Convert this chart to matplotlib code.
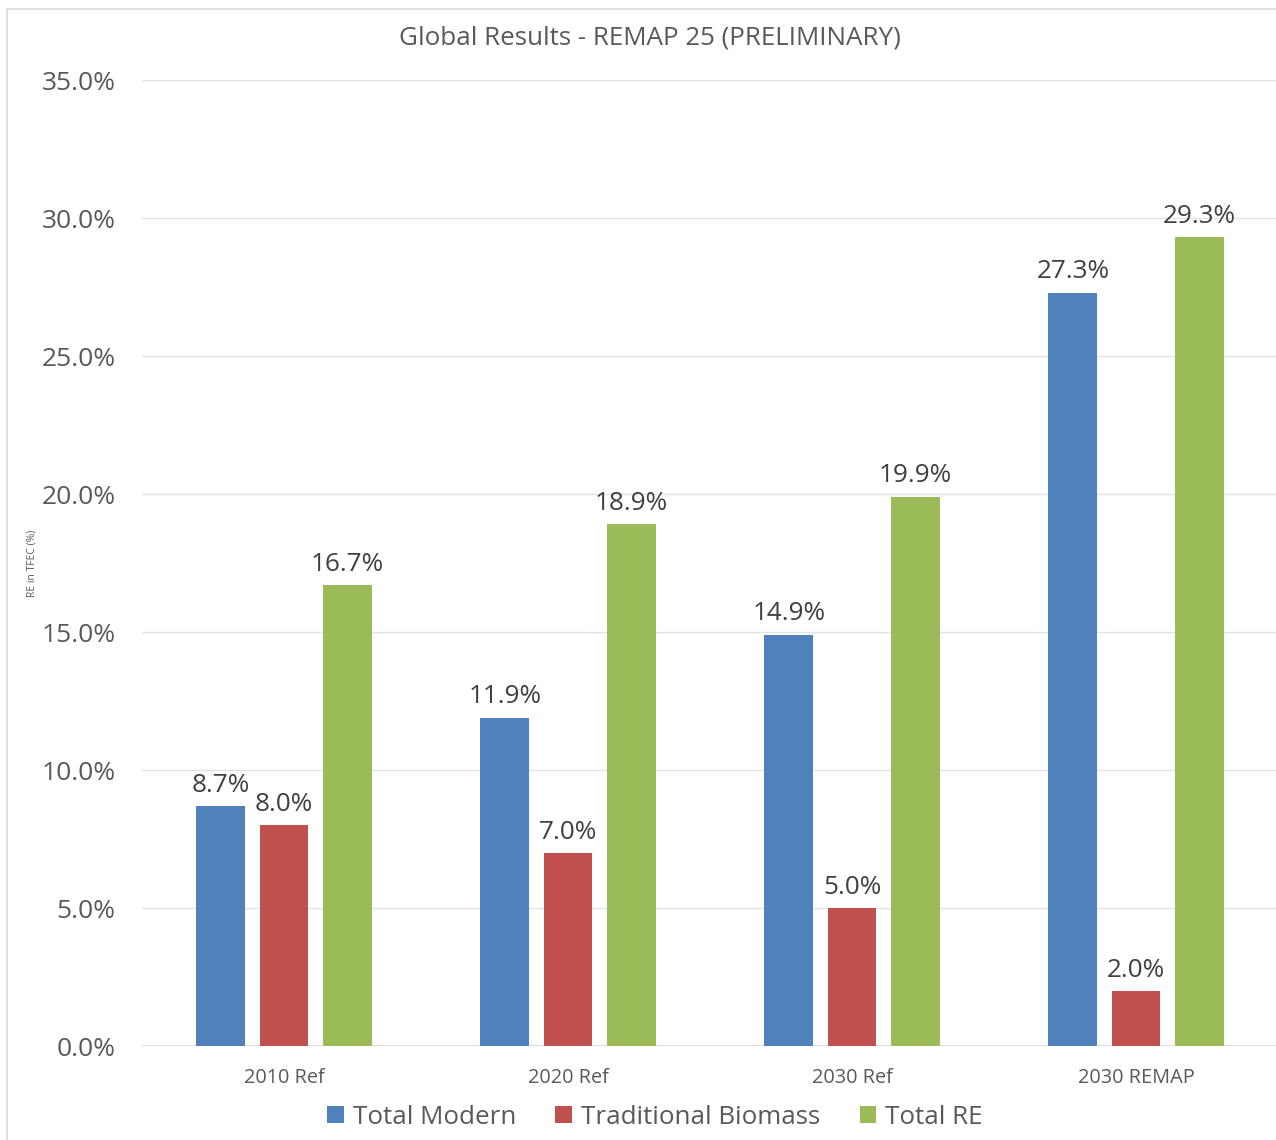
import numpy as np
import matplotlib.pyplot as plt
from matplotlib.patches import Rectangle

plt.rcParams['font.family'] = ['Open Sans', 'DejaVu Sans']

categories = ["2010 Ref", "2020 Ref", "2030 Ref", "2030 REMAP"]
total_modern = [8.7, 11.9, 14.9, 27.3]
traditional_biomass = [8.0, 7.0, 5.0, 2.0]
total_re = [16.7, 18.9, 19.9, 29.3]

series = [
    ("Total Modern", total_modern, "#4f81bd"),
    ("Traditional Biomass", traditional_biomass, "#c0504d"),
    ("Total RE", total_re, "#9bbb59"),
]

fig = plt.figure(figsize=(12.76, 11.4), dpi=100)
ax = fig.add_axes([142 / 1276, 1 - 1046 / 1140, 1136 / 1276, 966 / 1140])

# chart frame
fig.patches.append(Rectangle((7 / 1276, -0.01), 1.0, 1 - 9 / 1140 + 0.01,
                             transform=fig.transFigure, fill=False,
                             edgecolor="#d9d9d9", linewidth=1.2))

x = np.arange(len(categories))
offset = 0.222
width = 0.1725
for i, (name, vals, color) in enumerate(series):
    pos = x + (i - 1) * offset
    bars = ax.bar(pos, vals, width=width, color=color, label=name, zorder=3)
    for b, v in zip(bars, vals):
        ax.text(b.get_x() + b.get_width() / 2, v + 0.3, f"{v:.1f}%",
                ha="center", va="bottom", fontsize=18.8, color="#404040")

ax.set_xlim(-0.5, 3.5)
ax.set_ylim(0, 35)
ax.set_yticks(np.arange(0, 36, 5))
ax.set_yticklabels([f"{v:.1f}%" for v in np.arange(0, 36, 5)])
ax.set_xticks(x)
ax.set_xticklabels(categories)
ax.tick_params(axis="y", length=0, pad=19, labelsize=19, labelcolor="#595959")
ax.tick_params(axis="x", length=0, pad=16, labelsize=14.3, labelcolor="#595959")
ax.grid(axis="y", color="#e3e3e3", linewidth=1, zorder=0)
ax.axhline(0, color="#d9d9d9", linewidth=1.2, zorder=2)
for s in ax.spines.values():
    s.set_visible(False)

fig.text(650 / 1276, 1 - 38 / 1140, "Global Results - REMAP 25 (PRELIMINARY)",
         ha="center", va="center", fontsize=18.7, color="#595959")
fig.text(32 / 1276, 1 - 563 / 1140, "RE in TFEC (%)", rotation=90,
         ha="center", va="center", fontsize=7.5, color="#595959")

fig.legend(loc="center", bbox_to_anchor=(655 / 1276, 1 - 1117 / 1140), ncol=3,
           frameon=False, fontsize=18.7, handlelength=0.65, handleheight=0.65,
           handletextpad=0.35, columnspacing=1.5, labelcolor="#595959")

fig.savefig("out.png", dpi=100)
